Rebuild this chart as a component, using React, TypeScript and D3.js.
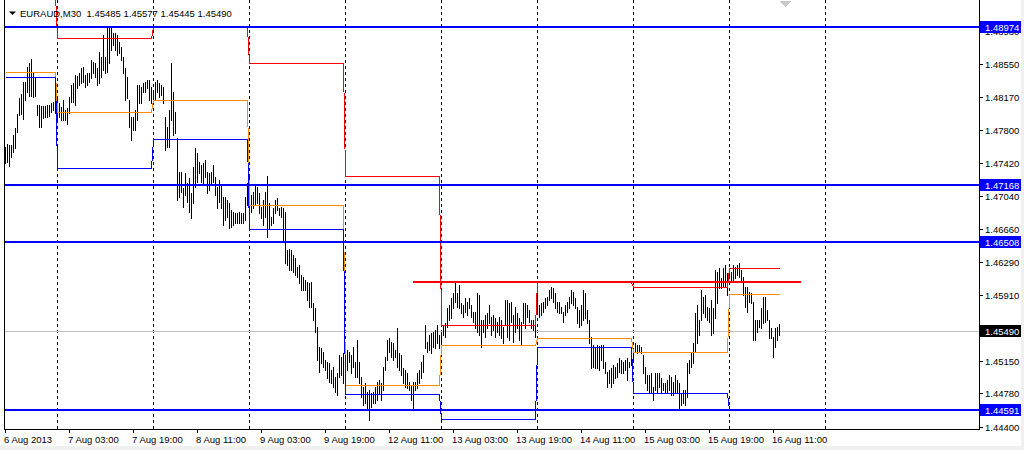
import React from "react";
import * as d3 from "d3";

const symbolLabel = "EURAUD,M30";
const lastOHLC = ["1.45485", "1.45577", "1.45445", "1.45490"];

// Bar highs / lows (M30 bars from 6 Aug 2013 11:00 to 16 Aug 2013 12:30)
const highs = [
  1.4760,1.4764,1.4762,1.4762,1.4774,1.4782,1.4798,1.4816,1.4821,1.4834,1.4834,1.4852,1.4856,1.4861,1.4845,1.4840,1.4808,1.4808,1.4807,1.4807,1.4807,1.4808,1.4808,1.4810,1.4812,1.4814,
  1.4816,1.4810,1.4806,1.4814,1.4802,1.4805,1.4817,1.4831,1.4833,1.4842,1.4841,1.4845,1.4850,1.4852,1.4842,1.4845,1.4845,1.4860,1.4857,1.4856,1.4850,1.4869,1.4863,1.4888,1.4863,1.4897,1.4897,1.4897,1.4891,1.4891,1.4888,1.4880,1.4875,1.4863,1.4850,1.4840,1.4814,1.4794,1.4794,1.4802,1.4831,1.4831,1.4829,1.4833,1.4834,1.4837,1.4837,1.4829,
  1.4825,1.4834,1.4837,1.4833,1.4831,1.4829,1.4794,1.4783,1.4802,1.4856,1.4823,1.4800,1.4770,1.4731,1.4731,1.4713,1.4730,1.4719,1.4725,1.4707,1.4737,1.4759,1.4753,1.4743,1.4740,1.4742,1.4745,1.4731,1.4730,1.4731,1.4740,1.4726,1.4714,1.4722,1.4717,1.4703,1.4703,1.4699,1.4696,1.4688,1.4686,1.4685,1.4685,1.4686,1.4685,1.4685,1.4703,1.4719,
  1.4726,1.4705,1.4709,1.4717,1.4714,1.4707,1.4691,1.4699,1.4709,1.4727,1.4696,1.4680,1.4690,1.4699,1.4702,1.4690,1.4691,1.4690,1.4686,1.4642,1.4643,1.4642,1.4636,1.4633,1.4623,1.4625,1.4614,1.4611,1.4608,1.4606,1.4604,1.4606,1.4582,1.4576,1.4554,1.4531,1.4530,1.4525,1.4516,1.4514,1.4513,1.4505,1.4508,1.4497,1.4501,1.4522,1.4520,1.4524,
  1.4537,1.4528,1.4525,1.4522,1.4531,1.4514,1.4539,1.4514,1.4497,1.4485,1.4490,1.4480,1.4482,1.4479,1.4480,1.4485,1.4491,1.4493,1.4490,1.4508,1.4520,1.4539,1.4542,1.4537,1.4536,1.4528,1.4553,1.4524,1.4522,1.4507,1.4505,1.4501,1.4491,1.4488,1.4491,1.4491,1.4501,1.4505,1.4514,1.4522,1.4556,1.4537,1.4545,1.4547,1.4548,1.4551,1.4556,1.4545,
  1.4548,1.4556,1.4559,1.4576,1.4579,1.4587,1.4593,1.4606,1.4593,1.4602,1.4582,1.4579,1.4587,1.4583,1.4587,1.4579,1.4571,1.4571,1.4593,1.4591,1.4562,1.4562,1.4568,1.4570,1.4579,1.4566,1.4568,1.4564,1.4560,1.4566,1.4562,1.4554,1.4585,1.4585,1.4582,1.4583,1.4568,1.4577,1.4570,1.4564,1.4560,1.4582,1.4582,1.4579,1.4574,1.4562,1.4562,1.4568,
  1.4594,1.4579,1.4582,1.4583,1.4587,1.4588,1.4596,1.4600,1.4599,1.4593,1.4583,1.4583,1.4577,1.4571,1.4579,1.4583,1.4588,1.4596,1.4594,1.4587,1.4577,1.4574,1.4579,1.4596,1.4593,1.4574,1.4562,1.4543,1.4534,1.4531,1.4534,1.4532,1.4534,1.4534,1.4514,1.4503,1.4505,1.4507,1.4511,1.4508,1.4513,1.4519,1.4516,1.4514,1.4516,1.4519,1.4514,1.4522,
  1.4528,1.4536,1.4534,1.4534,1.4531,1.4522,1.4508,1.4499,1.4499,1.4501,1.4485,1.4501,1.4501,1.4501,1.4496,1.4490,1.4490,1.4493,1.4499,1.4497,1.4491,1.4499,1.4493,1.4490,1.4479,1.4482,1.4482,1.4513,1.4516,1.4525,1.4536,1.4570,1.4579,1.4562,1.4596,1.4588,1.4591,1.4577,1.4576,1.4585,1.4576,1.4619,1.4617,1.4622,1.4610,1.4622,1.4625,1.4616,
  1.4622,1.4617,1.4625,1.4623,1.4625,1.4627,1.4619,1.4611,1.4600,1.4600,1.4594,1.4593,1.4583,1.4562,1.4562,1.4562,1.4576,1.4588,1.4588,1.4574,1.4562,1.4553,1.4543,1.4553,1.4554,1.45577,
];
const lows = [
  1.4742,1.4743,1.4738,1.4749,1.4754,1.4759,1.4777,1.4797,1.4798,1.4792,1.4814,1.4823,1.4818,1.4818,1.4817,1.4818,1.4797,1.4783,1.4783,1.4793,1.4794,1.4794,1.4796,1.4800,1.4802,1.4799,
  1.4791,1.4794,1.4791,1.4791,1.4791,1.4786,1.4799,1.4812,1.4812,1.4808,1.4828,1.4831,1.4833,1.4834,1.4829,1.4831,1.4834,1.4839,1.4845,1.4840,1.4831,1.4833,1.4840,1.4848,1.4845,1.4846,1.4856,1.4871,1.4877,1.4871,1.4865,1.4868,1.4860,1.4845,1.4814,1.4816,1.4783,1.4768,1.4780,1.4780,1.4791,1.4810,1.4810,1.4823,1.4823,1.4828,1.4814,1.4810,
  1.4810,1.4814,1.4823,1.4817,1.4820,1.4810,1.4757,1.4760,1.4760,1.4791,1.4774,1.4776,1.4699,1.4703,1.4709,1.4691,1.4705,1.4697,1.4686,1.4679,1.4696,1.4714,1.4720,1.4730,1.4720,1.4717,1.4726,1.4707,1.4711,1.4717,1.4720,1.4705,1.4690,1.4697,1.4690,1.4671,1.4677,1.4680,1.4667,1.4669,1.4671,1.4673,1.4673,1.4673,1.4673,1.4673,1.4677,1.4694,
  1.4691,1.4686,1.4690,1.4694,1.4696,1.4685,1.4679,1.4671,1.4680,1.4657,1.4667,1.4671,1.4673,1.4685,1.4688,1.4682,1.4680,1.4651,1.4627,1.4625,1.4619,1.4619,1.4617,1.4614,1.4611,1.4604,1.4596,1.4596,1.4596,1.4585,1.4577,1.4577,1.4562,1.4548,1.4516,1.4503,1.4513,1.4508,1.4505,1.4496,1.4491,1.4490,1.4485,1.4480,1.4476,1.4497,1.4499,1.4490,
  1.4524,1.4505,1.4514,1.4501,1.4508,1.4497,1.4497,1.4490,1.4474,1.4465,1.4467,1.4459,1.4448,1.4463,1.4467,1.4467,1.4471,1.4479,1.4471,1.4482,1.4505,1.4516,1.4525,1.4520,1.4516,1.4520,1.4508,1.4505,1.4499,1.4490,1.4485,1.4484,1.4482,1.4471,1.4461,1.4482,1.4484,1.4490,1.4496,1.4503,1.4530,1.4525,1.4528,1.4524,1.4531,1.4530,1.4536,1.4530,
  1.4534,1.4545,1.4543,1.4554,1.4562,1.4564,1.4576,1.4583,1.4577,1.4576,1.4570,1.4566,1.4571,1.4568,1.4576,1.4566,1.4560,1.4553,1.4548,1.4545,1.4531,1.4548,1.4543,1.4553,1.4559,1.4545,1.4551,1.4543,1.4548,1.4545,1.4542,1.4536,1.4556,1.4543,1.4539,1.4560,1.4537,1.4548,1.4553,1.4539,1.4534,1.4559,1.4553,1.4566,1.4560,1.4553,1.4551,1.4543,
  1.4571,1.4566,1.4568,1.4571,1.4576,1.4579,1.4585,1.4587,1.4583,1.4576,1.4571,1.4570,1.4570,1.4560,1.4568,1.4571,1.4576,1.4582,1.4579,1.4576,1.4559,1.4554,1.4556,1.4562,1.4564,1.4559,1.4536,1.4507,1.4508,1.4507,1.4507,1.4505,1.4516,1.4507,1.4501,1.4485,1.4490,1.4485,1.4490,1.4496,1.4497,1.4503,1.4501,1.4501,1.4505,1.4493,1.4508,1.4511,
  1.4516,1.4525,1.4524,1.4525,1.4524,1.4501,1.4490,1.4482,1.4480,1.4479,1.4471,1.4482,1.4479,1.4485,1.4480,1.4482,1.4479,1.4480,1.4482,1.4476,1.4476,1.4480,1.4479,1.4461,1.4465,1.4467,1.4465,1.4474,1.4501,1.4508,1.4513,1.4525,1.4536,1.4545,1.4562,1.4570,1.4566,1.4562,1.4560,1.4545,1.4547,1.4564,1.4582,1.4599,1.4599,1.4600,1.4600,1.4591,
  1.4610,1.4606,1.4606,1.4610,1.4614,1.4611,1.4606,1.4591,1.4577,1.4571,1.4583,1.4582,1.4539,1.4539,1.4548,1.4554,1.4553,1.4559,1.4560,1.4562,1.4542,1.4542,1.4520,1.4531,1.4539,1.45445,
];

// Daily indicator: previous-day high (red), close (orange), low (blue)
const dayStart = [0, 26, 74, 122, 170, 218, 266, 314, 362];
const prevHigh = [1.4935, 1.4885, 1.4897, 1.4856, 1.4727, 1.4556, 1.4606, 1.46, 1.4622];
const prevClose = [1.4846, 1.48, 1.4814, 1.4694, 1.4488, 1.4534, 1.4542, 1.4525, 1.4592];
const prevLow = [1.484, 1.4736, 1.4769, 1.4666, 1.4477, 1.4449, 1.4531, 1.4479, 1.446];

const separatorBars = [26, 74, 122, 170, 218, 266, 314, 362, 410];
const timeTickBars = [0, 32, 64, 96, 128, 160, 192, 224, 256, 288, 320, 352, 384];
const timeTickLabels = [
  "6 Aug 2013", "7 Aug 03:00", "7 Aug 19:00", "8 Aug 11:00", "9 Aug 03:00", "9 Aug 19:00",
  "12 Aug 11:00", "13 Aug 03:00", "13 Aug 19:00", "14 Aug 11:00", "15 Aug 03:00", "15 Aug 19:00", "16 Aug 11:00",
];
const priceTicks = [1.4893, 1.4855, 1.4817, 1.478, 1.4742, 1.4704, 1.4666, 1.4629, 1.4591, 1.4553, 1.4515, 1.4478, 1.444];
const blueLevels = [1.48974, 1.47168, 1.46508, 1.44591];
const redLevelPrice = 1.4606;
const redLevelBars = [204, 398];
const lastPrice = 1.4549;
const shiftMarkerBar = 390;

const FONT = "'Liberation Sans', Arial, sans-serif";

export default function App() {
  const W = 1024, H = 450;
  const left = 4, right = 979, bottom = 429;
  const x = d3.scaleLinear().domain([0, 1]).range([5, 7]);
  const y = d3.scaleLinear().domain([1.44591, 1.48974]).range([410, 27]);
  const ry = (p: number) => Math.round(y(p));

  const dayOf = (i: number) => {
    let d = 0;
    for (let k = 0; k < dayStart.length; k++) if (i >= dayStart[k]) d = k;
    return d;
  };
  const idx = d3.range(highs.length);
  const mk = (vals: number[]) =>
    d3.line<number>().x((i) => x(i) + 0.5).y((i) => ry(vals[dayOf(i)]) + 0.5)(idx) || "";
  const sx = x(shiftMarkerBar);

  return (
    <svg width={W} height={H} style={{ position: "absolute", left: 0, top: 0, background: "#fff" }}
      fontFamily={FONT}>
      <defs>
        <clipPath id="plot"><rect x={left + 1} y={0} width={right - left - 1} height={bottom} /></clipPath>
      </defs>
      <rect x={0} y={0} width={W} height={H} fill="#fff" />
      <rect x={1021} y={0} width={3} height={H} fill="#f0f0f0" />
      <rect x={0} y={446} width={W} height={4} fill="#f0f0f0" />
      <g clipPath="url(#plot)" shapeRendering="crispEdges">
        {separatorBars.map((b) => (
          <line key={"s" + b} x1={x(b) + 0.5} x2={x(b) + 0.5} y1={0} y2={bottom} stroke="#000" strokeDasharray="3,3" />
        ))}
        <line x1={left} x2={right} y1={ry(lastPrice) + 0.5} y2={ry(lastPrice) + 0.5} stroke="#c0c0c0" />
        {idx.map((i) => (
          <line key={"b" + i} x1={x(i) + 0.5} x2={x(i) + 0.5} y1={ry(highs[i])} y2={ry(lows[i]) + 1} stroke="#000" />
        ))}
        <path d={mk(prevHigh)} fill="none" stroke="#ff0000" />
        <path d={mk(prevClose)} fill="none" stroke="#ff8c00" />
        <path d={mk(prevLow)} fill="none" stroke="#0000ff" />
        {blueLevels.map((p) => (
          <rect key={"l" + p} x={left} y={ry(p) - 1} width={right - left} height={2} fill="#0000ff" />
        ))}
        <rect x={x(redLevelBars[0])} y={ry(redLevelPrice) - 1} width={x(redLevelBars[1]) - x(redLevelBars[0])} height={2} fill="#ff0000" />
        <polygon points={`${sx - 5},1 ${sx + 6},1 ${sx + 0.5},7`} fill="#c8c8c8" />
      </g>
      <g shapeRendering="crispEdges">
        <line x1={left + 0.5} x2={left + 0.5} y1={0} y2={bottom + 0.5} stroke="#000" />
        <line x1={right + 0.5} x2={right + 0.5} y1={0} y2={bottom + 0.5} stroke="#000" />
        <line x1={left} x2={right + 1} y1={bottom + 0.5} y2={bottom + 0.5} stroke="#000" />
      </g>
      {/* header */}
      <polygon points="9,11.5 16,11.5 12.5,15" fill="#000" />
      <text x={20} y={17} fontSize={9.5} fill="#000" style={{ whiteSpace: "pre" }}>
        {symbolLabel + "  " + lastOHLC.join(" ")}
      </text>
      {/* price axis */}
      {priceTicks.map((p) => (
        <g key={"t" + p}>
          <line x1={980} x2={983} y1={ry(p) + 0.5} y2={ry(p) + 0.5} stroke="#000" shapeRendering="crispEdges" />
          <text x={985} y={ry(p) + 3.5} fontSize={9.5} fill="#000">{p.toFixed(5)}</text>
        </g>
      ))}
      {blueLevels.map((p) => (
        <g key={"bl" + p}>
          <rect x={980} y={ry(p) - 6} width={41} height={12} fill="#0000ff" />
          <text x={985} y={ry(p) + 3.5} fontSize={9.5} fill="#fff">{p.toFixed(5)}</text>
        </g>
      ))}
      <rect x={980} y={ry(lastPrice) - 6} width={41} height={12} fill="#000" />
      <text x={985} y={ry(lastPrice) + 3.5} fontSize={9.5} fill="#fff">{lastPrice.toFixed(5)}</text>
      {/* time axis */}
      {timeTickBars.map((b, k) => (
        <g key={"x" + b}>
          <line x1={x(b) + 0.5} x2={x(b) + 0.5} y1={bottom} y2={bottom + 4} stroke="#000" shapeRendering="crispEdges" />
          <text x={x(b) - 1} y={443} fontSize={9.5} fill="#000">{timeTickLabels[k]}</text>
        </g>
      ))}
    </svg>
  );
}
